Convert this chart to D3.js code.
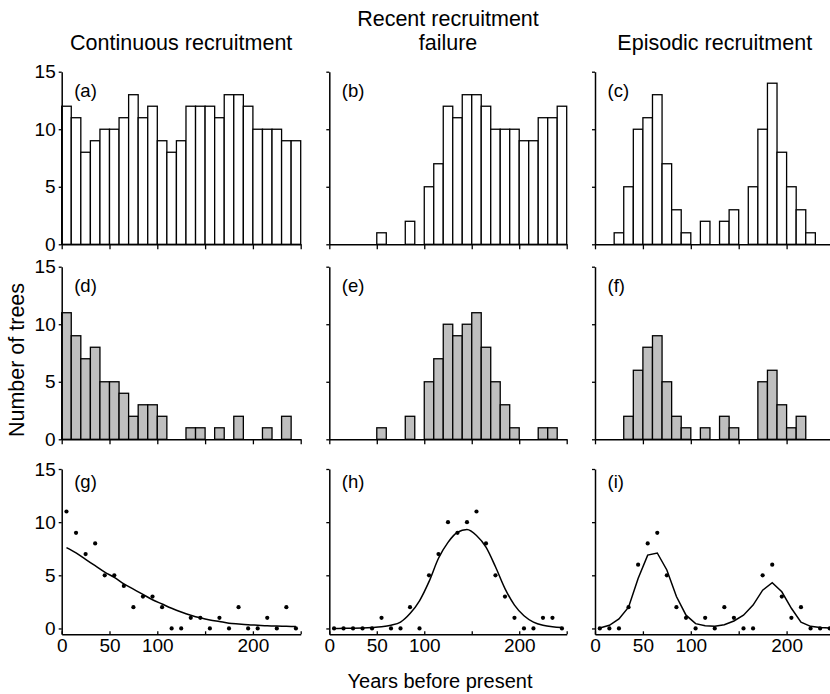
<!DOCTYPE html>
<html>
<head>
<meta charset="utf-8">
<script src="https://cdn.jsdelivr.net/npm/d3@7"></script>
<style>
  html, body { margin: 0; padding: 0; background: #fff; }
  svg { display: block; font-family: "Liberation Sans", Arial, sans-serif; }
</style>
</head>
<body>
<svg id="chart" width="830" height="694"></svg>
<script>
// ---- data ----
const binStart = [0,10,20,30,40,50,60,70,80,90,100,110,120,130,140,150,160,170,180,190,200,210,220,230,240];
const binMid   = [5,15,25,35,45,55,65,75,85,95,105,115,125,135,145,155,165,175,185,195,205,215,225,235,245];

const continuousA = [12,11,8,9,10,10,11,13,11,12,9,8,9,12,12,12,11,13,13,12,10,10,10,9,9];
const failureB    = [0,0,0,0,0,1,0,0,2,0,5,7,12,11,13,13,12,10,10,10,9,9,11,11,12];
const episodicC   = [0,0,1,5,10,11,13,7,3,1,0,2,0,2,3,0,5,10,14,8,5,3,1,0,0];

const continuousD = [11,9,7,8,5,5,4,2,3,3,2,0,0,1,1,0,1,0,2,0,0,1,0,2,0];
const failureE    = [0,0,0,0,0,1,0,0,2,0,5,7,10,9,10,11,8,5,3,1,0,0,1,1,0];
const episodicF   = [0,0,0,2,6,8,9,5,2,1,0,1,0,2,1,0,0,5,6,3,1,2,0,0,0];

const fitG = [7.6,7.1,6.5,5.9,5.3,4.8,4.2,3.7,3.2,2.7,2.3,1.9,1.55,1.25,1.0,0.8,0.65,0.5,0.42,0.35,0.3,0.25,0.22,0.2,0.18];
const fitH = [0,0.01,0.02,0.04,0.08,0.15,0.3,0.6,1.4,2.6,4.4,6.6,8.1,9.05,9.3,8.75,7.65,5.8,3.75,2.2,1.2,0.6,0.3,0.15,0.08];
const fitI = [0.05,0.3,0.9,2.0,4.7,6.9,7.1,5.5,3.0,1.25,0.45,0.25,0.2,0.35,0.7,1.25,2.2,3.6,4.3,3.45,1.9,0.6,0.2,0.1,0.05];

const columnTitles = [["Continuous recruitment"], ["Recent recruitment", "failure"], ["Episodic recruitment"]];
const panelLabels = ["(a)","(b)","(c)","(d)","(e)","(f)","(g)","(h)","(i)"];
const yTicks = [0,5,10,15];
const xTicks = [0,50,100,150,200,250];
const xLabelled = [0,50,100,200];
const binWidth = 10;

// ---- layout ----
const svg = d3.select("#chart");
const cols = [{x0:61.7, x1:300.7}, {x0:329.3, x1:566.7}, {x0:595, x1:834.5}];
const rows = [
  {top:71.7, bottom:244.3, dom:[0,15]},
  {top:266.7, bottom:439.3, dom:[0,15]},
  {top:469, bottom:634.3, dom:[-0.55,15]}
];
const barsByPanel = [[continuousA, failureB, episodicC],[continuousD, failureE, episodicF]];
const fits = [fitG, fitH, fitI];
const fitCurves = [d3.curveMonotoneX, d3.curveMonotoneX, d3.curveLinear];

const tickFont = 19, labelFont = 18.5, titleFont = 21.5;

rows.forEach((r, ri) => {
  cols.forEach((c, ci) => {
    const x = d3.scaleLinear().domain([0,250]).range([c.x0, c.x1]);
    const y = d3.scaleLinear().domain(r.dom).range([r.bottom, r.top]);
    const g = svg.append("g");

    if (ri < 2) {
      const data = barsByPanel[ri][ci];
      g.selectAll("rect").data(binStart.map((b,i)=>({b, v:data[i]})).filter(d=>d.v>0))
        .join("rect")
        .attr("x", d => x(d.b))
        .attr("width", d => x(d.b + binWidth) - x(d.b))
        .attr("y", d => y(d.v))
        .attr("height", d => y(0) - y(d.v))
        .attr("fill", ri === 0 ? "#ffffff" : "#bfbfbf")
        .attr("stroke", "#000")
        .attr("stroke-width", 1.3);
    } else {
      const obs = barsByPanel[1][ci];
      const fit = fits[ci];
      g.append("path")
        .datum(binMid.map((m,i)=>[m, fit[i]]))
        .attr("fill","none").attr("stroke","#000").attr("stroke-width",1.5)
        .attr("d", d3.line().x(d=>x(d[0])).y(d=>y(d[1])).curve(fitCurves[ci]));
      g.selectAll("circle").data(binMid.map((m,i)=>[m, obs[i]]))
        .join("circle")
        .attr("cx", d=>x(d[0])).attr("cy", d=>y(d[1])).attr("r", 2.1)
        .attr("fill","#000");
    }

    // y axis
    const ya = d3.axisLeft(y).tickValues(yTicks).tickSize(3).tickPadding(3).tickSizeOuter(0)
      .tickFormat(ci === 0 ? d3.format("d") : () => "");
    const yg = svg.append("g").attr("transform", `translate(${c.x0},0)`).call(ya);
    // x axis
    let xa;
    if (ri < 2) {
      xa = d3.axisBottom(x).tickValues(xTicks).tickSize(5).tickSizeOuter(0).tickFormat(() => "");
    } else {
      xa = d3.axisBottom(x).tickValues(xTicks).tickSize(-3).tickPadding(4).tickSizeOuter(0)
        .tickFormat(d => xLabelled.includes(d) ? d : "");
    }
    const xg = svg.append("g").attr("transform", `translate(0,${r.bottom})`).call(xa);

    [yg, xg].forEach(a => {
      a.selectAll("path.domain").attr("stroke","#000").attr("stroke-width",1.5);
      a.selectAll(".tick line").attr("stroke","#000").attr("stroke-width",1.3);
      a.selectAll("text").attr("fill","#000").style("font-size", tickFont + "px")
        .style("font-family", '"Liberation Sans", Arial, sans-serif');
    });

    // panel label
    svg.append("text")
      .attr("x", c.x0 + 12.5)
      .attr("y", ri < 2 ? r.top + 25 : r.top + 18.5)
      .style("font-size", labelFont + "px")
      .text(panelLabels[ri*3 + ci]);
  });
});

// column titles
columnTitles.forEach((lines, ci) => {
  const cx = (cols[ci].x0 + cols[ci].x1) / 2;
  lines.forEach((t, li) => {
    svg.append("text")
      .attr("x", cx)
      .attr("y", 50 - (lines.length - 1 - li) * 24)
      .attr("text-anchor", "middle")
      .style("font-size", titleFont + "px")
      .text(t);
  });
});

// axis titles
svg.append("text")
  .attr("transform", "translate(24,360) rotate(-90)")
  .attr("text-anchor", "middle")
  .style("font-size", "21.5px")
  .text("Number of trees");
svg.append("text")
  .attr("x", 440).attr("y", 688)
  .attr("text-anchor", "middle")
  .style("font-size", "20px")
  .text("Years before present");
</script>
</body>
</html>
